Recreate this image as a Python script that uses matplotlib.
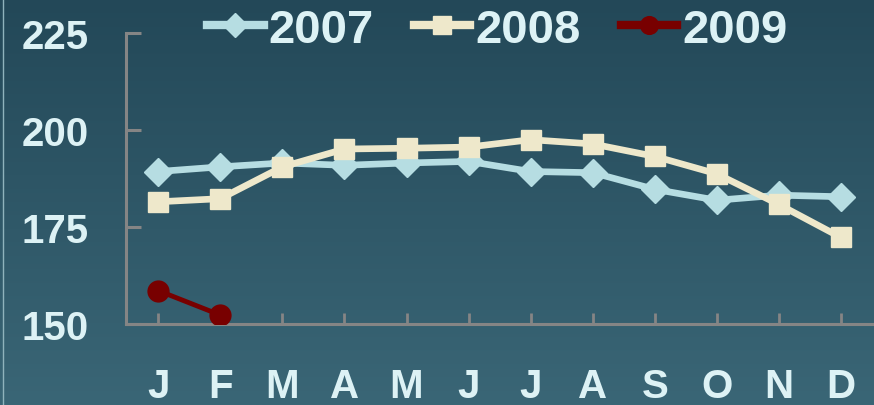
import matplotlib
matplotlib.use('Agg')
import matplotlib.pyplot as plt
import numpy as np
from matplotlib.colors import LinearSegmentedColormap
from matplotlib.lines import Line2D

months = ['J', 'F', 'M', 'A', 'M', 'J', 'J', 'A', 'S', 'O', 'N', 'D']
y2007 = [189.3, 190.5, 191.5, 190.9, 191.5, 191.9, 189.3, 189.0, 184.7, 181.9, 183.2, 182.8]
y2008 = [181.5, 182.3, 190.5, 195.1, 195.3, 195.6, 197.5, 196.4, 193.2, 188.7, 180.8, 172.3]
y2009 = [158.6, 152.3]
yticks = [150, 175, 200, 225]
series_labels = ['2007', '2008', '2009']

plt.rcParams['font.family'] = ['Liberation Sans', 'DejaVu Sans']

W, H = 874, 406
fig = plt.figure(figsize=(W / 100, H / 100), dpi=100)

# background gradient
bg = fig.add_axes([0, 0, 1, 1], zorder=0)
grad = np.linspace(0, 1, 256).reshape(-1, 1)
cmap = LinearSegmentedColormap.from_list('bg', ['#234858', '#3A6676'])
bg.imshow(grad, aspect='auto', cmap=cmap, extent=[0, 1, 0, 1], origin='upper')
bg.set_xlim(0, 1)
bg.set_ylim(0, 1)
bg.axis('off')
bg.add_line(Line2D([3 / W, 3 / W], [0, 1], color='#8FB3BC', lw=1.0))

txt = '#DDF2F5'
axc = '#858585'

ax = fig.add_axes([126 / W, 1 - 325 / H, (872 - 126) / W, (325 - 34) / H], zorder=1)
ax.patch.set_alpha(0)

x = np.arange(len(months))
ax.plot(x, y2007, color='#B6DDE2', lw=4.8, marker='D', ms=14, mec='#B6DDE2', label=series_labels[0], zorder=3)
ax.plot(x, y2008, color='#EEE8CB', lw=4.8, marker='s', ms=15, mec='#EEE8CB', label=series_labels[1], zorder=4)
ax.plot(x[:len(y2009)], y2009, color='#780000', lw=3.5, marker='o', ms=15, mec='#780000', label=series_labels[2], zorder=5)

ax.set_xlim(-0.52, 11.5)
ax.set_ylim(150, 225)
ax.set_yticks(yticks)
ax.set_xticks(x)
ax.set_xticklabels(months)

for s in ['top', 'right']:
    ax.spines[s].set_visible(False)
for s in ['left', 'bottom']:
    ax.spines[s].set_color(axc)
    ax.spines[s].set_linewidth(2.2)

ax.tick_params(axis='y', direction='in', length=11, width=2.2, color=axc, pad=27,
               labelsize=29, labelcolor=txt)
ax.tick_params(axis='x', direction='in', length=8, width=2.0, color=axc, pad=31,
               labelsize=29, labelcolor=txt)
for lab in ax.get_xticklabels() + ax.get_yticklabels():
    lab.set_fontweight('bold')

leg = ax.legend(loc='center', bbox_to_anchor=(497 / W, 1 - 31 / H), bbox_transform=fig.transFigure,
                ncol=3, frameon=False, fontsize=34, handlelength=1.2, handletextpad=0.1,
                columnspacing=0.85, borderpad=0, borderaxespad=0, markerscale=0.85,
                prop={'weight': 'bold', 'size': 34})
for t in leg.get_texts():
    t.set_color(txt)
for h in leg.get_lines():
    h.set_linewidth(6)

fig.savefig('out.png', dpi=100)
